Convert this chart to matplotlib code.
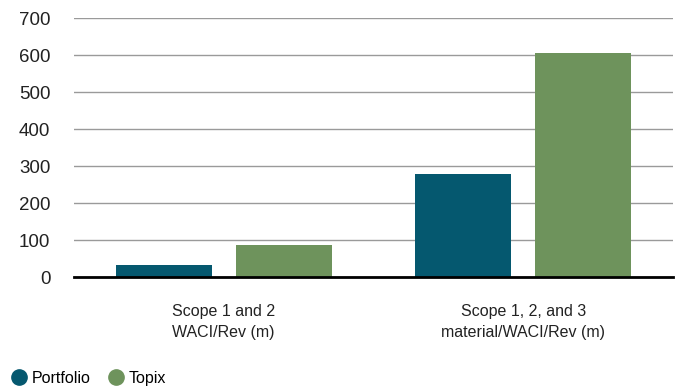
import numpy as np
import matplotlib.pyplot as plt
from matplotlib.lines import Line2D

categories = ["Scope 1 and 2\nWACI/Rev (m)", "Scope 1, 2, and 3\nmaterial/WACI/Rev (m)"]
portfolio = [32, 278]
topix = [87, 605]
yticks = [0, 100, 200, 300, 400, 500, 600, 700]

c_port = "#05586F"
c_topix = "#6E935C"

plt.rcParams['font.family'] = ['Liberation Sans', 'DejaVu Sans']

fig = plt.figure(figsize=(6.79, 3.92), dpi=100)
ax = fig.add_axes([0.109, 0.293, 0.882, 0.661])

x = np.arange(len(categories))
w = 0.32
ax.bar(x - 0.2, portfolio, width=w, color=c_port, zorder=3)
ax.bar(x + 0.2, topix, width=w, color=c_topix, zorder=3)

ax.set_xlim(-0.5, 1.5)
ax.set_ylim(0, 700)
ax.set_yticks(yticks)
ax.set_yticklabels([str(v) for v in yticks], fontsize=13.5, color="#222222")
ax.set_xticks(x)
ax.set_xticklabels(categories, fontsize=11.5, color="#222222", linespacing=1.5)

ax.yaxis.grid(True, color="#9a9a9a", linewidth=1.0, zorder=0)
ax.axhline(0, color="black", linewidth=2, zorder=4, clip_on=False)
for s in ax.spines.values():
    s.set_visible(False)
ax.tick_params(axis='both', length=0)
ax.tick_params(axis='y', pad=17)
ax.tick_params(axis='x', pad=19)

# legend row under the chart
handles = [
    Line2D([], [], marker='o', linestyle='none', markersize=11, color=c_port, label="Portfolio"),
    Line2D([], [], marker='o', linestyle='none', markersize=11, color=c_topix, label="Topix"),
]
fig.legend(handles=handles, loc='center left', bbox_to_anchor=(0.018, 0.035), ncol=2,
           frameon=False, fontsize=11.5, handletextpad=0.35, columnspacing=1.1,
           handlelength=0.9, borderaxespad=0, borderpad=0)

fig.savefig("out.png", dpi=100)
